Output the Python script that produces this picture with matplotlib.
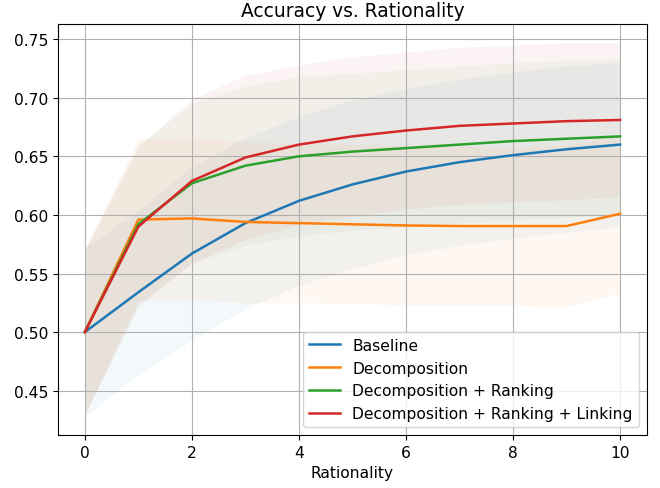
import matplotlib
matplotlib.use("Agg")
import matplotlib.pyplot as plt
import numpy as np

# rationality levels
rationality = [0, 1, 2, 3, 4, 5, 6, 7, 8, 9, 10]

# mean accuracy per method
baseline = [0.500, 0.534, 0.567, 0.593, 0.612, 0.626, 0.637, 0.645, 0.651, 0.656, 0.660]
decomp = [0.500, 0.596, 0.597, 0.594, 0.593, 0.592, 0.591, 0.5905, 0.5905, 0.5905, 0.601]
decomp_rank = [0.500, 0.592, 0.627, 0.642, 0.650, 0.654, 0.657, 0.660, 0.663, 0.665, 0.667]
decomp_rank_link = [0.500, 0.590, 0.629, 0.649, 0.660, 0.667, 0.672, 0.676, 0.678, 0.680, 0.681]

# spread (std) per method
baseline_std = [0.072, 0.070, 0.074, 0.073, 0.072, 0.072, 0.071, 0.071, 0.071, 0.071, 0.070]
decomp_std = [0.071, 0.069, 0.069, 0.069, 0.068, 0.068, 0.068, 0.068, 0.068, 0.069, 0.068]
decomp_rank_std = [0.070, 0.068, 0.068, 0.068, 0.068, 0.067, 0.067, 0.067, 0.067, 0.067, 0.067]
decomp_rank_link_std = [0.070, 0.068, 0.070, 0.070, 0.068, 0.068, 0.067, 0.067, 0.067, 0.067, 0.066]

labels = ["Baseline", "Decomposition", "Decomposition + Ranking",
          "Decomposition + Ranking + Linking"]
means = [baseline, decomp, decomp_rank, decomp_rank_link]
stds = [baseline_std, decomp_std, decomp_rank_std, decomp_rank_link_std]
colors = ["#1f77b4", "#ff7f0e", "#2ca02c", "#d62728"]

plt.rcParams["font.size"] = 11.2

fig = plt.figure(figsize=(6.6, 4.89), dpi=100)
ax = fig.add_axes([0.088, 0.108, 0.892, 0.841])

x = np.array(rationality)
for lab, m, s, c in zip(labels, means, stds, colors):
    m = np.array(m)
    s = np.array(s)
    ax.fill_between(x, m - s, m + s, color=c, alpha=0.05, linewidth=0)
for lab, m, c in zip(labels, means, colors):
    ax.plot(x, m, color=c, label=lab, lw=1.8)

ax.grid(True)
ax.legend(loc="lower right")
ax.set_title("Accuracy vs. Rationality")
ax.set_xlabel("Rationality")

fig.savefig("out.png", dpi=100)
